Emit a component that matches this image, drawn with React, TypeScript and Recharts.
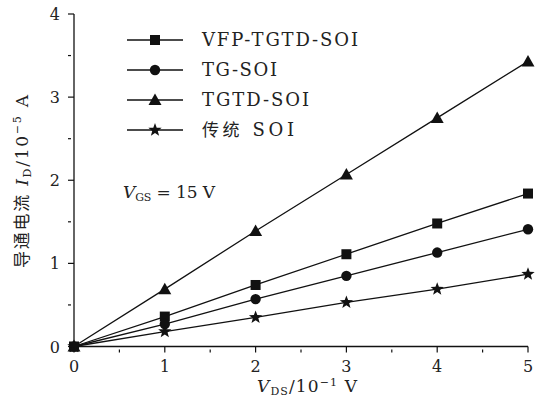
import { Customized, Line, LineChart, XAxis, YAxis } from 'recharts';

const vds = [0, 1, 2, 3, 4, 5];
const vfpTgtd = [0, 0.36, 0.74, 1.11, 1.48, 1.84];
const tgSoi = [0, 0.27, 0.57, 0.85, 1.13, 1.41];
const tgtdSoi = [0, 0.69, 1.39, 2.07, 2.75, 3.43];
const convSoi = [0, 0.18, 0.35, 0.53, 0.69, 0.87];

const xTicks = [0, 0.5, 1, 1.5, 2, 2.5, 3, 3.5, 4, 4.5, 5];
const yTicks = [0, 0.5, 1, 1.5, 2, 2.5, 3, 3.5, 4];

const data = vds.map((v, i) => ({
  vds: v,
  vfp: vfpTgtd[i],
  tg: tgSoi[i],
  tgtd: tgtdSoi[i],
  conv: convSoi[i],
}));

const FONT = 'DejaVu Serif, serif';
const CJK = 'Noto Sans CJK SC, sans-serif';
const INK = '#111';
const TXT = '#222';

type Shape = 'square' | 'circle' | 'triangle' | 'star';

function Marker({ shape, cx, cy }: { shape: Shape; cx: number; cy: number }) {
  if (shape === 'square') return <rect x={cx - 5} y={cy - 5} width={10} height={10} fill={INK} />;
  if (shape === 'circle') return <circle cx={cx} cy={cy} r={5.2} fill={INK} />;
  if (shape === 'triangle')
    return <polygon points={`${cx},${cy - 6.5} ${cx + 6.5},${cy + 5} ${cx - 6.5},${cy + 5}`} fill={INK} />;
  const pts: string[] = [];
  for (let k = 0; k < 10; k++) {
    const r = k % 2 === 0 ? 7 : 2.9;
    const a = -Math.PI / 2 + (k * Math.PI) / 5;
    pts.push(`${cx + r * Math.cos(a)},${cy + r * Math.sin(a)}`);
  }
  return <polygon points={pts.join(' ')} fill={INK} />;
}

const dotFor = (shape: Shape) => (p: any) => {
  if (p.cx == null || p.cy == null) return <g key={p.key} />;
  return (
    <g key={p.key}>
      <Marker shape={shape} cx={p.cx} cy={p.cy} />
    </g>
  );
};

const isMajor = (v: number) => Number.isInteger(v);

const BottomTick = ({ x, y, payload }: any) => (
  <g>
    <line x1={x} x2={x} y1={y} y2={y - (isMajor(payload.value) ? 6 : 3)} stroke={INK} strokeWidth={1.2} />
    {isMajor(payload.value) && (
      <text x={x} y={y + 19} textAnchor="middle" fontFamily={FONT} fontSize={16} fill={TXT}>
        {payload.value}
      </text>
    )}
  </g>
);

const LeftTick = ({ x, y, payload }: any) => (
  <g>
    <line x1={x} x2={x + (isMajor(payload.value) ? 6 : 3)} y1={y} y2={y} stroke={INK} strokeWidth={1.2} />
    {isMajor(payload.value) && (
      <text x={x - 8} y={y + 6} textAnchor="end" fontFamily={FONT} fontSize={16} fill={TXT}>
        {payload.value}
      </text>
    )}
  </g>
);

const TopTick = ({ x, y, payload }: any) => (
  <line x1={x} x2={x} y1={y} y2={y + (isMajor(payload.value) ? 6 : 3)} stroke={INK} strokeWidth={1.2} />
);

const RightTick = ({ x, y, payload }: any) => (
  <line x1={x} x2={x - (isMajor(payload.value) ? 6 : 3)} y1={y} y2={y} stroke={INK} strokeWidth={1.2} />
);

const legendItems: { name: string; shape: Shape; len: number }[] = [
  { name: 'VFP-TGTD-SOI', shape: 'square', len: 156 },
  { name: 'TG-SOI', shape: 'circle', len: 75 },
  { name: 'TGTD-SOI', shape: 'triangle', len: 107 },
  { name: '传统 SOI', shape: 'star', len: 92 },
];

function Overlay() {
  return (
    <g>
      {legendItems.map((it, i) => {
        const y = 40 + i * 30;
        return (
          <g key={it.name}>
            <line x1={127} x2={183} y1={y} y2={y} stroke={INK} strokeWidth={1.3} />
            <Marker shape={it.shape} cx={155} cy={y} />
            <text
              x={202}
              y={y + 6}
              fontFamily={FONT}
              fontSize={18}
              fill={TXT}
              textLength={it.len}
              lengthAdjust="spacing"
            >
              {i === 3 ? (
                <>
                  <tspan fontFamily={CJK} fontSize={17}>传统</tspan>
                  <tspan> SOI</tspan>
                </>
              ) : (
                it.name
              )}
            </text>
          </g>
        );
      })}
      <text x={123} y={198} fontFamily={FONT} fontSize={17} fill={TXT} textLength={92} lengthAdjust="spacing">
        <tspan fontStyle="italic">V</tspan>
        <tspan fontSize={11} dy={3}>GS</tspan>
        <tspan dy={-3}> = 15 V</tspan>
      </text>
      <text x={257} y={392} fontFamily={FONT} fontSize={17} fill={TXT} textLength={100} lengthAdjust="spacing">
        <tspan fontStyle="italic">V</tspan>
        <tspan fontSize={11} dy={3}>DS</tspan>
        <tspan dy={-3}>/10</tspan>
        <tspan fontSize={11} dy={-6}>−1</tspan>
        <tspan dy={6}> V</tspan>
      </text>
      <text
        transform="translate(28,268) rotate(-90)"
        fontFamily={FONT}
        fontSize={17}
        fill={TXT}
        textLength={173}
        lengthAdjust="spacing"
      >
        <tspan fontFamily={CJK} fontSize={17}>导通电流</tspan>
        <tspan> </tspan>
        <tspan fontStyle="italic">I</tspan>
        <tspan fontSize={11} dy={3}>D</tspan>
        <tspan dy={-3}>/10</tspan>
        <tspan fontSize={11} dy={-7}>−5</tspan>
        <tspan dy={7}> A</tspan>
      </text>
    </g>
  );
}

export default function App() {
  return (
    <div style={{ position: 'absolute', left: 0, top: 0, width: 539, height: 405, background: '#fff' }}>
      <LineChart width={539} height={405} data={data} margin={{ top: 14, right: 11, left: 0, bottom: 0.5 }}>
        <XAxis
          xAxisId="b"
          dataKey="vds"
          type="number"
          domain={[0, 5]}
          ticks={xTicks}
          height={58}
          tickMargin={0}
          tickLine={false}
          axisLine={{ stroke: INK, strokeWidth: 1.3 }}
          tick={<BottomTick />}
          interval={0}
        />
        <XAxis
          xAxisId="t"
          orientation="top"
          dataKey="vds"
          type="number"
          domain={[0, 5]}
          ticks={xTicks}
          height={0}
          tickMargin={0}
          tickLine={false}
          axisLine={{ stroke: INK, strokeWidth: 1.3 }}
          tick={<TopTick />}
          interval={0}
        />
        <YAxis
          yAxisId="l"
          type="number"
          domain={[0, 4]}
          ticks={yTicks}
          width={74}
          tickMargin={0}
          tickLine={false}
          axisLine={{ stroke: INK, strokeWidth: 1.3 }}
          tick={<LeftTick />}
          interval={0}
        />
        <YAxis
          yAxisId="r"
          orientation="right"
          type="number"
          domain={[0, 4]}
          ticks={yTicks}
          width={0}
          tickMargin={0}
          tickLine={false}
          axisLine={{ stroke: INK, strokeWidth: 1.3 }}
          tick={<RightTick />}
          interval={0}
        />
        <Line xAxisId="b" yAxisId="l" dataKey="tgtd" stroke={INK} strokeWidth={1.3} dot={dotFor('triangle')} isAnimationActive={false} />
        <Line xAxisId="b" yAxisId="l" dataKey="vfp" stroke={INK} strokeWidth={1.3} dot={dotFor('square')} isAnimationActive={false} />
        <Line xAxisId="b" yAxisId="l" dataKey="tg" stroke={INK} strokeWidth={1.3} dot={dotFor('circle')} isAnimationActive={false} />
        <Line xAxisId="b" yAxisId="l" dataKey="conv" stroke={INK} strokeWidth={1.3} dot={dotFor('star')} isAnimationActive={false} />
        <Customized component={<Overlay />} />
      </LineChart>
    </div>
  );
}
